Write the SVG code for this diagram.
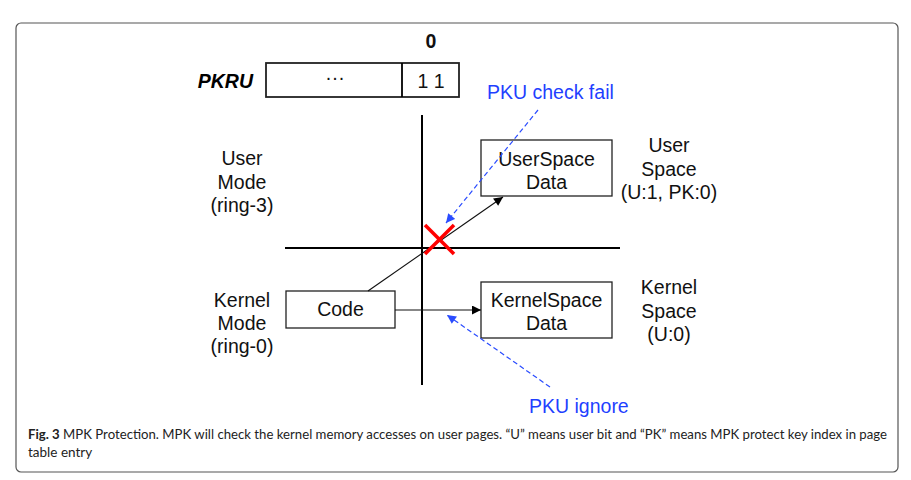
<svg xmlns="http://www.w3.org/2000/svg" width="911" height="480" viewBox="0 0 911 480">
<style>
.lbl{font-family:"Liberation Sans",Arial,sans-serif;font-size:19.5px;fill:#111;text-anchor:middle}
.blue{font-family:"Liberation Sans",Arial,sans-serif;font-size:19.5px;fill:#1f3fff}
.box{fill:#fff;stroke:#222;stroke-width:1.3}
.axis{stroke:#000;stroke-width:2;fill:none}
.arr{stroke:#111;stroke-width:1.1;fill:none}
.dash{stroke:#2a4cff;stroke-width:1.2;stroke-dasharray:5 3;fill:none}
.cap{font-family:Lato,"Open Sans",sans-serif;font-size:13.5px;fill:#222}
</style>
<defs>
<marker id="ah" viewBox="0 0 10 10" refX="10" refY="5" markerWidth="12" markerHeight="9" markerUnits="userSpaceOnUse" orient="auto"><path d="M0,0 L10,5 L0,10 Z" fill="#000"/></marker>
<marker id="bh" viewBox="0 0 10 10" refX="10" refY="5" markerWidth="11" markerHeight="9" markerUnits="userSpaceOnUse" orient="auto"><path d="M0,0 L10,5 L0,10 Z" fill="#2a4cff"/></marker>
</defs>
<rect x="16" y="23" width="882" height="449" rx="5" fill="#fff" stroke="#555" stroke-width="1.2"/>
<g id="pkru">
<text x="253" y="88" style="font-family:'Liberation Sans',Arial,sans-serif;font-size:19.5px;font-weight:bold;font-style:italic;text-anchor:end;fill:#000">PKRU</text>
<rect class="box" x="266" y="63" width="193" height="34" style="stroke-width:1.8"/>
<line x1="402" y1="63" x2="402" y2="97" stroke="#000" stroke-width="1.8"/>
<text class="lbl" x="335" y="84">···</text>
<text class="lbl" x="431" y="88">1 1</text>
<text class="lbl" x="431" y="48" style="font-weight:bold">0</text>
</g>
<g id="axes">
<line class="axis" x1="422" y1="115" x2="422" y2="385"/>
<line class="axis" x1="285" y1="248" x2="620" y2="248"/>
</g>
<g id="user-mode"><text class="lbl" x="242" y="165">User</text><text class="lbl" x="242" y="189">Mode</text><text class="lbl" x="242" y="212">(ring-3)</text></g>
<g id="kernel-mode"><text class="lbl" x="242" y="307">Kernel</text><text class="lbl" x="242" y="330">Mode</text><text class="lbl" x="242" y="353">(ring-0)</text></g>
<g id="user-space"><text class="lbl" x="669" y="152">User</text><text class="lbl" x="669" y="176">Space</text><text class="lbl" x="669" y="199">(U:1, PK:0)</text></g>
<g id="kernel-space"><text class="lbl" x="669" y="294">Kernel</text><text class="lbl" x="669" y="318">Space</text><text class="lbl" x="669" y="341">(U:0)</text></g>
<g id="userspace-data"><rect class="box" x="481" y="140" width="131" height="56"/><text class="lbl" x="546.5" y="166">UserSpace</text><text class="lbl" x="546.5" y="189">Data</text></g>
<g id="kernelspace-data"><rect class="box" x="481" y="282" width="131" height="56"/><text class="lbl" x="546.5" y="307">KernelSpace</text><text class="lbl" x="546.5" y="330">Data</text></g>
<g id="code"><rect class="box" x="286" y="291" width="109" height="37"/><text class="lbl" x="340.5" y="316">Code</text></g>
<g id="connectors">
<line class="arr" x1="368" y1="291" x2="503" y2="197" marker-end="url(#ah)"/>
<line class="arr" x1="395" y1="310" x2="481" y2="310" marker-end="url(#ah)"/>
<line class="dash" x1="538" y1="110" x2="446" y2="223" marker-end="url(#bh)"/>
<line class="dash" x1="550" y1="387" x2="447" y2="315" marker-end="url(#bh)"/>
</g>
<g id="fail-x" stroke="#ff0000" stroke-width="3.6">
<line x1="425" y1="225" x2="454" y2="254"/>
<line x1="454" y1="225" x2="425" y2="254"/>
</g>
<g id="labels">
<text class="blue" x="487" y="99">PKU check fail</text>
<text class="blue" x="529" y="413">PKU ignore</text>
</g>
<g id="caption">
<text class="cap" x="28" y="439" textLength="859" lengthAdjust="spacingAndGlyphs"><tspan font-weight="bold">Fig. 3</tspan> MPK Protection. MPK will check the kernel memory accesses on user pages. “U” means user bit and “PK” means MPK protect key index in page</text>
<text class="cap" x="28" y="457">table entry</text>
</g>
</svg>
